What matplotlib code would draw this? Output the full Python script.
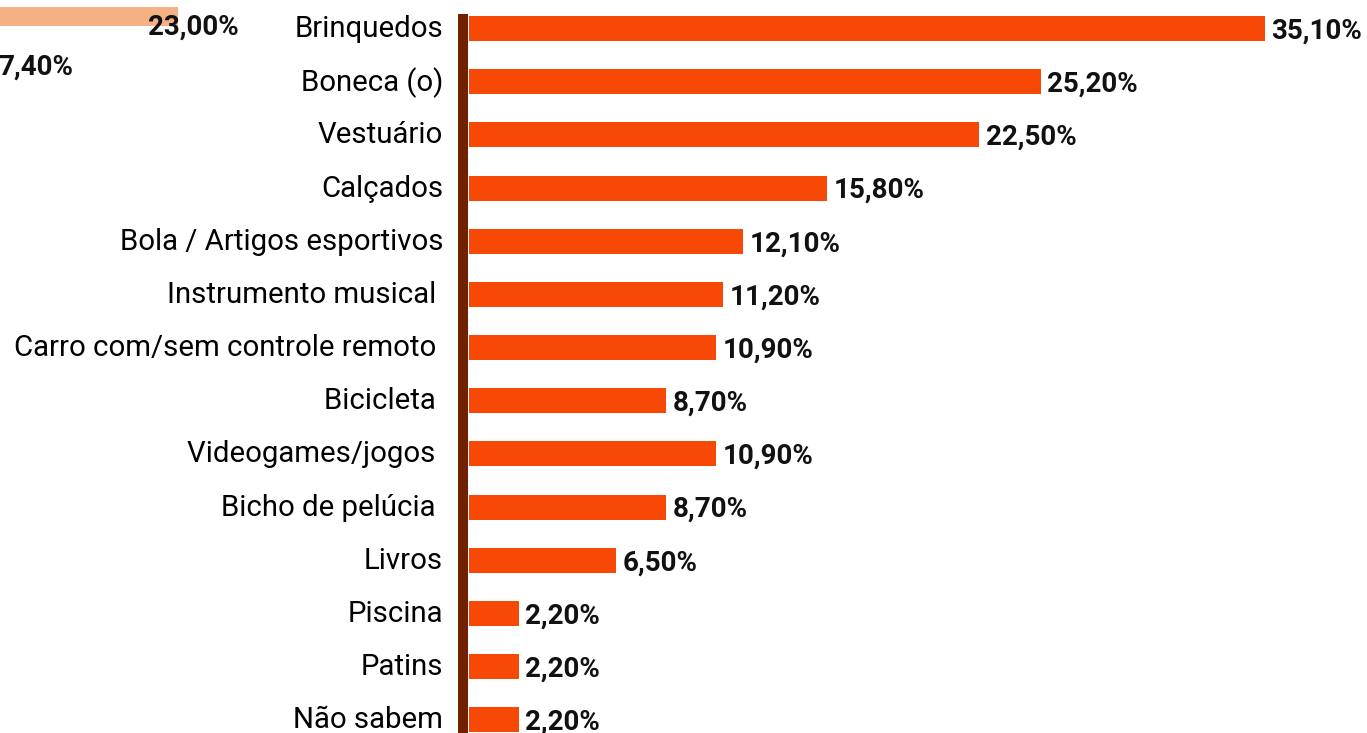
import numpy as np
import matplotlib.pyplot as plt

plt.rcParams['font.family'] = ['Roboto', 'DejaVu Sans']

###############################################################################

categories = ['Brinquedos', 'Boneca (o)', 'Vestuário', 'Calçados',
              'Bola / Artigos esportivos', 'Instrumento musical ',
              'Carro com/sem controle remoto ', 'Bicicleta ',
              'Videogames/jogos ', 'Bicho de pelúcia ', 'Livros',
              'Piscina', 'Patins', 'Não sabem']
values = [35.1, 25.2, 22.5, 15.8, 12.1, 11.2, 10.9, 8.7, 10.9, 8.7, 6.5,
          2.2, 2.2, 2.2]

# pieces of a neighbouring chart cut off at the top-left corner
ghost_values = [23.0, 7.4]
ghost_shown = [True, False]

def pct(v):
    return '{:.2f}%'.format(v).replace('.', ',')

###############################################################################

W, H = 1367, 733
fig = plt.figure(figsize=(W/100, H/100), dpi=100)

# main chart
px_unit = 22.68
row = 53.17
top = 28.5
x0 = 469
ax = fig.add_axes([x0/W, 0, (W-x0)/W, 1])
ypos = np.arange(len(values))
ax.barh(ypos, values, height=25/row, color='#F74805')
ax.set_xlim(0, (W-x0)/px_unit)
ax.set_ylim((H-top)/row, -top/row)
ax.set_xticks([])
ax.set_yticks([])
for s in ['top', 'right', 'bottom']:
    ax.spines[s].set_visible(False)
ax.spines['left'].set_color('#722100')
ax.spines['left'].set_linewidth(7.2)
ax.spines['left'].set_capstyle('butt')
ax.spines['left'].set_position(('outward', 4))
ax.spines['left'].set_bounds(-(top-14)/row, (H-top)/row)

# category names, right-aligned against the axis line
for y, name in zip(ypos, categories):
    ax.annotate(name, (0, y), xytext=(-18.7, 1.8), textcoords='offset points',
                ha='right', va='center_baseline', fontsize=21.2,
                color='#000000', annotation_clip=False)

for y, v in zip(ypos, values):
    ax.annotate(pct(v), (v, y), xytext=(4.5, -1.8), textcoords='offset points',
                ha='left', va='center', fontsize=20, fontweight='bold',
                color='#111111')

# ghost chart fragment
g_unit = 9.6
g_row = 40
g_left = -43
gx = fig.add_axes([g_left/W, 1-100/H, 400/W, 100/H])
gx.set_xlim(0, 400/g_unit)
gx.set_ylim((100-16.5)/g_row, -16.5/g_row)
for i, (v, shown) in enumerate(zip(ghost_values, ghost_shown)):
    if shown:
        gx.barh(i, v, height=19/g_row, color='#F5B084')
    gx.annotate(pct(v), (v, i), xytext=(-21.5, -8),
                textcoords='offset points', ha='left', va='center',
                fontsize=20, fontweight='bold', color='#111111')
gx.axis('off')

fig.savefig('out.png', dpi=100)
